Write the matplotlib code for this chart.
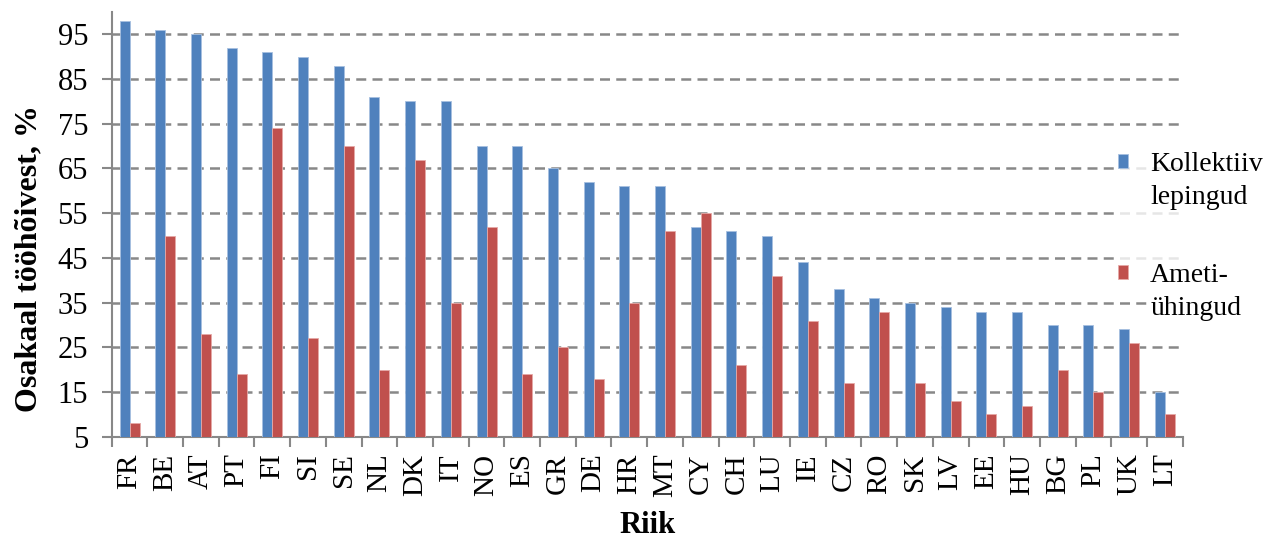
import numpy as np
import matplotlib
matplotlib.use('Agg')
from matplotlib import pyplot as plt
from matplotlib.ticker import FixedLocator

countries = ['FR', 'BE', 'AT', 'PT', 'FI', 'SI', 'SE', 'NL', 'DK', 'IT',
             'NO', 'ES', 'GR', 'DE', 'HR', 'MT', 'CY', 'CH', 'LU', 'IE',
             'CZ', 'RO', 'SK', 'LV', 'EE', 'HU', 'BG', 'PL', 'UK', 'LT']
kollektiiv = [98, 96, 95, 92, 91, 90, 88, 81, 80, 80,
              70, 70, 65, 62, 61, 61, 52, 51, 50, 44,
              38, 36, 35, 34, 33, 33, 30, 30, 29, 15]
ameti = [8, 50, 28, 19, 74, 27, 70, 20, 67, 35,
         52, 19, 25, 18, 35, 51, 55, 21, 41, 31,
         17, 33, 17, 13, 10, 12, 20, 15, 26, 10]
yticks = [5, 15, 25, 35, 45, 55, 65, 75, 85, 95]
legend_first = ['Kollektiiv', 'Ameti-']
legend_second = ['lepingud', 'ühingud']

plt.rcParams['font.family'] = ['Liberation Serif', 'DejaVu Serif']

fig = plt.figure(figsize=(12.69, 5.4), dpi=100)
ax = fig.add_axes([0.088, 0.191, 0.844, 0.787])

x = np.arange(len(countries))
w = 0.28
ax.bar(x - w / 2, np.array(kollektiiv) - 5, w, bottom=5, color='#4F81BD',
       edgecolor='#A7C0E0', linewidth=0.6, label=legend_first[0], zorder=3)
ax.bar(x + w / 2, np.array(ameti) - 5, w, bottom=5, color='#C0504D',
       edgecolor='#E6A9A7', linewidth=0.6, label=legend_first[1], zorder=3)

ax.set_xlim(-0.5, len(countries) - 0.5)
ax.set_ylim(5, 100)
ax.set_yticks(yticks)
ax.set_xticks(x)
ax.set_xticklabels(countries, rotation=90, fontsize=21)
ax.tick_params(axis='x', which='major', length=0, pad=12)
ax.xaxis.set_minor_locator(FixedLocator(np.arange(-0.5, len(countries), 1)))
ax.tick_params(axis='x', which='minor', length=7, width=1.5, color='#888888')
ax.tick_params(axis='y', labelsize=22, length=7, width=1.5, color='#888888', pad=10)

ax.yaxis.grid(True, linestyle=(0, (4, 2.5)), color='#888888', linewidth=1.8, zorder=0)
ax.set_axisbelow(True)
for s in ['top', 'right']:
    ax.spines[s].set_visible(False)
for s in ['left', 'bottom']:
    ax.spines[s].set_color('#888888')
    ax.spines[s].set_linewidth(1.5)

ax.set_xlabel('Riik', fontsize=22, fontweight='bold', labelpad=10)
ax.set_ylabel('Osakaal tööhõivest, %', fontsize=23, fontweight='bold')
ax.yaxis.set_label_coords(-0.064, 0.42)

leg = ax.legend(loc='upper left', bbox_to_anchor=(0.937, 0.677), fontsize=20,
                frameon=True, handlelength=0.36, handleheight=0.36, handletextpad=0.8,
                labelspacing=3.1, borderpad=0.1, borderaxespad=0)
leg.get_frame().set_facecolor('white')
leg.get_frame().set_edgecolor('none')
leg.set_zorder(5)
for t, s in zip(leg.get_texts(), legend_second):
    ax.annotate(s, xy=(0, 0), xycoords=t, xytext=(0, -8), textcoords='offset pixels',
                va='top', ha='left', fontsize=20, zorder=6,
                bbox=dict(facecolor='white', edgecolor='none', pad=0))

fig.savefig('out.png', dpi=100)
